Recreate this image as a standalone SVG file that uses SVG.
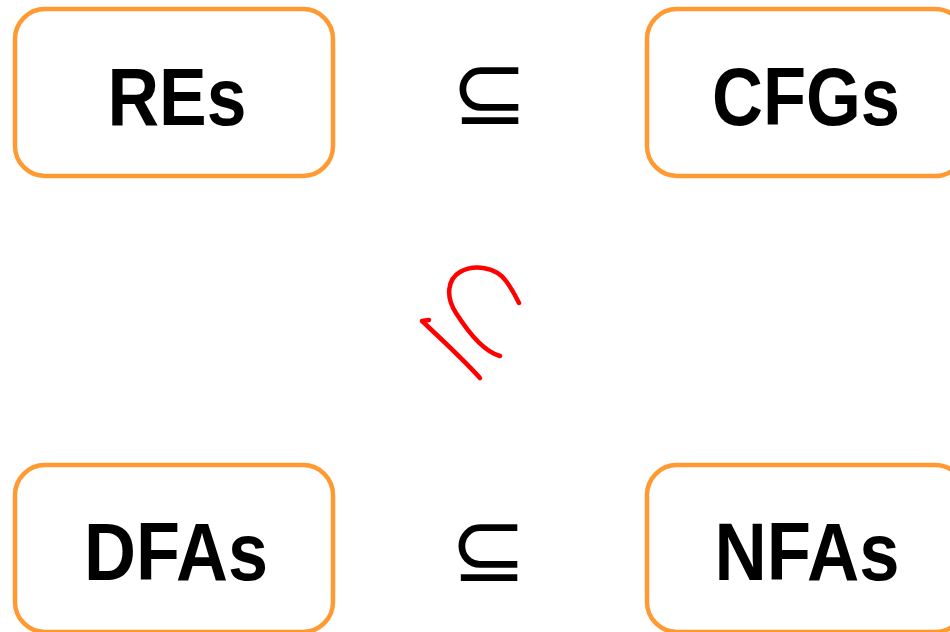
<svg xmlns="http://www.w3.org/2000/svg" width="950" height="632" viewBox="0 0 950 632">
<style>
.box{fill:#fff;stroke:#FF9A33;stroke-width:4.5}
.lbl{font-family:"Liberation Sans",Arial,sans-serif;font-weight:bold;font-size:81px;fill:#000;text-anchor:middle}
.rel{font-family:"DejaVu Sans",sans-serif;font-size:92px;fill:#000;text-anchor:middle}
.hand{fill:none;stroke:#FF0000;stroke-width:4.5;stroke-linecap:round;stroke-linejoin:round}
</style>
<rect width="950" height="632" fill="#fff"/>
<g id="res"><rect class="box" x="15" y="9" width="318" height="167" rx="30"/><text class="lbl" x="177" y="125" textLength="139" lengthAdjust="spacingAndGlyphs">REs</text></g>
<g id="cfgs"><rect class="box" x="647" y="9" width="318" height="167" rx="30"/><text class="lbl" x="806" y="125" textLength="188" lengthAdjust="spacingAndGlyphs">CFGs</text></g>
<g id="dfas"><rect class="box" x="15" y="465" width="318" height="167" rx="30"/><text class="lbl" x="176" y="580" textLength="184" lengthAdjust="spacingAndGlyphs">DFAs</text></g>
<g id="nfas"><rect class="box" x="647" y="465" width="318" height="167" rx="30"/><text class="lbl" x="807" y="580" textLength="185" lengthAdjust="spacingAndGlyphs">NFAs</text></g>
<g id="connectors">
<text class="rel" x="489.5" y="124">⊆</text>
<text class="rel" x="488.5" y="581">⊆</text>
<path class="hand" d="M500,356 C485,352 470,335 456,313 C445,296 448,279 460,272 C474,264 496,267 506,281 C512,289 516,297 519,303"/>
<path class="hand" d="M429,320 L422,321 C440,338 462,358 480,378"/>
</g>
</svg>
